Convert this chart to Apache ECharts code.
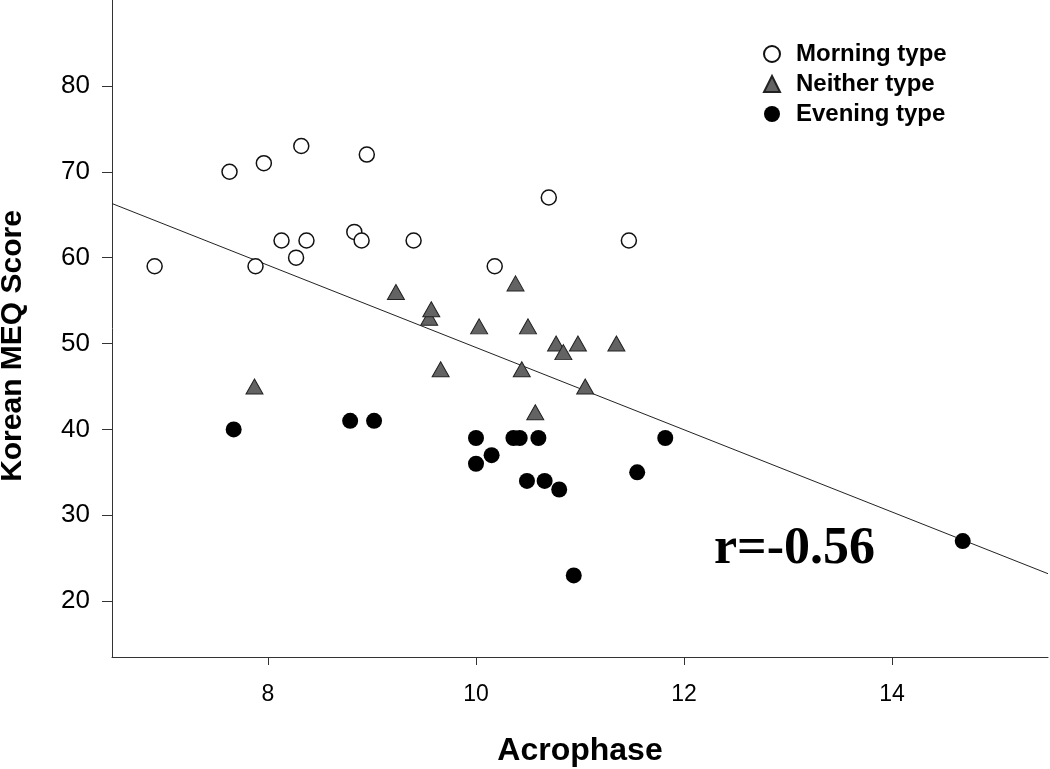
<!DOCTYPE html>
<html><head><meta charset="utf-8">
<script src="https://cdn.jsdelivr.net/npm/echarts@6/dist/echarts.min.js"></script>
<style>html,body{margin:0;padding:0;background:#fff}#c{width:1050px;height:769px}</style>
</head><body><div id="c"></div>
<script>
// Data
const morningX = [6.91, 7.63, 7.88, 7.96, 8.13, 8.27, 8.32, 8.37, 8.83, 8.90, 8.95, 9.40, 10.18, 10.70, 11.47];
const morningY = [59, 70, 59, 71, 62, 60, 73, 62, 63, 62, 72, 62, 59, 67, 62];
const neitherX = [7.87, 9.23, 9.55, 9.57, 9.66, 10.03, 10.38, 10.44, 10.50, 10.57, 10.77, 10.84, 10.98, 11.05, 11.35];
const neitherY = [45, 56, 53, 54, 47, 52, 57, 47, 52, 42, 50, 49, 50, 45, 50];
const eveningX = [7.67, 8.79, 9.02, 10.00, 10.00, 10.15, 10.36, 10.42, 10.49, 10.60, 10.66, 10.80, 10.94, 11.55, 11.82, 14.68];
const eveningY = [40, 41, 41, 39, 36, 37, 39, 39, 34, 39, 34, 33, 23, 35, 39, 27];
const fitX = [6.5, 15.5];
const fitY = [66.3, 23.2];
const xTicks = [8, 10, 12, 14];
const yTicks = [20, 30, 40, 50, 60, 70, 80];
const seriesNames = ['Morning type', 'Neither type', 'Evening type'];
const rLabel = 'r=-0.56';

const zip = (xs, ys) => xs.map((x, i) => [x, ys[i]]);
const sans = 'Liberation Sans, Arial, sans-serif';

const chart = echarts.init(document.getElementById('c'), null, {renderer: 'canvas'});
chart.setOption({
  backgroundColor: '#fff',
  animation: false,
  grid: {left: 112, right: 2, top: 0, bottom: 112, containLabel: false, outerBoundsMode: 'none'},
  legend: {
    orient: 'vertical', left: 758, top: 37, itemGap: 6, itemWidth: 16, itemHeight: 16,
    data: [
      {name: seriesNames[0], icon: 'circle'},
      {name: seriesNames[1], icon: 'triangle'},
      {name: seriesNames[2], icon: 'circle'}
    ],
    textStyle: {fontFamily: sans, fontWeight: 'bold', fontSize: 24, color: '#000', lineHeight: 24, padding: [0, 0, 0, 11]}
  },
  xAxis: {
    type: 'value', min: 6.5, max: 15.5,
    name: 'Acrophase', nameLocation: 'middle', nameGap: 78,
    nameTextStyle: {fontFamily: sans, fontWeight: 'bold', fontSize: 32, color: '#000'},
    axisLine: {show: true, lineStyle: {color: '#333', width: 1}},
    axisTick: {show: true, length: 8, customValues: xTicks, lineStyle: {color: '#333'}},
    axisLabel: {customValues: xTicks, margin: 26, fontFamily: sans, fontSize: 23, color: '#000'},
    splitLine: {show: false}
  },
  yAxis: {
    type: 'value', min: 13.5, max: 90,
    name: 'Korean MEQ Score', nameLocation: 'middle', nameGap: 84, nameRotate: 90,
    nameTextStyle: {fontFamily: sans, fontWeight: 'bold', fontSize: 30, color: '#000', padding: [0, 35, 0, 0]},
    axisLine: {show: true, lineStyle: {color: '#333', width: 1}},
    axisTick: {show: true, length: 10, customValues: yTicks, lineStyle: {color: '#333'}},
    axisLabel: {customValues: yTicks, margin: 22, fontFamily: sans, fontSize: 26, color: '#000'},
    splitLine: {show: false}
  },
  graphic: [{
    type: 'text', left: 714, top: 524, z: 100,
    style: {text: rLabel, font: 'bold 52px "Liberation Serif", "Times New Roman", serif', fill: '#000'}
  }],
  series: [
    {
      type: 'line', data: zip(fitX, fitY), symbol: 'none', silent: true,
      lineStyle: {color: '#222', width: 1}, z: 1
    },
    {
      name: seriesNames[0], type: 'scatter', symbol: 'circle', symbolSize: 15,
      data: zip(morningX, morningY),
      itemStyle: {color: '#fff', borderColor: '#111', borderWidth: 1.5, opacity: 1}, z: 3
    },
    {
      name: seriesNames[1], type: 'scatter', symbol: 'triangle', symbolSize: [17, 15],
      data: zip(neitherX, neitherY),
      itemStyle: {color: '#636363', borderColor: '#222', borderWidth: 1, opacity: 1}, z: 3
    },
    {
      name: seriesNames[2], type: 'scatter', symbol: 'circle', symbolSize: 16,
      data: zip(eveningX, eveningY),
      itemStyle: {color: '#000', borderColor: '#000', borderWidth: 0, opacity: 1}, z: 3
    }
  ]
});
</script></body></html>
